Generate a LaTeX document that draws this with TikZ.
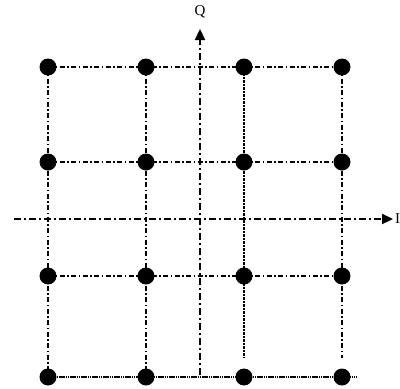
\documentclass[tikz,border=0pt]{standalone}
\usepackage{fontspec}
\setmainfont{Liberation Serif}
\usetikzlibrary{arrows.meta}
\tikzset{
  gridline/.style={line width=1.8pt, dash pattern=on 5pt off 2.5pt on 1.5pt off 2.5pt},
  thinline/.style={line width=1.3pt, dash pattern=on 1pt off 0.4pt},
  dotline/.style={line width=2pt, dash pattern=on 1.5pt off 0.7pt},
  axisline/.style={line width=2.3pt, dash pattern=on 7pt off 3pt on 2pt off 3pt, -{Triangle[length=11pt,width=10pt]}},
  pt/.style={circle, fill=black, inner sep=0pt, minimum size=17pt},
  lab/.style={font=\fontsize{15}{17}\selectfont, inner sep=0pt}
}
\begin{document}
\begin{tikzpicture}[x=1pt,y=-1pt]
\useasboundingbox (0,0) rectangle (400,389);
% grid coordinates
\foreach \c/\x in {1/48,2/146,3/244,4/342}{
  \foreach \r/\y in {1/67,2/162,3/276,4/377}{
    \coordinate (p\r\c) at (\x,\y);
  }
}
\coordinate (e3) at (244,357);
\coordinate (e4) at (342,358);
\coordinate (eb) at (357,377);
\coordinate (hL) at (14,219);
\coordinate (hR) at (393,219);
\coordinate (vB) at (200,375);
\coordinate (vT) at (200,29);
% horizontal grid lines
\draw[gridline] (p11) -- (p14);
\draw[gridline] (p21) -- (p24);
\draw[gridline] (p31) -- (p34);
\draw[dotline] (p41) -- (eb);
% vertical grid lines
\draw[gridline] (p11) -- (p41);
\draw[gridline] (p12) -- (p42);
\draw[thinline] (p13) -- (e3);
\draw[gridline] (p14) -- (e4);
% axes
\draw[axisline] (hL) -- (hR);
\draw[axisline] (vB) -- (vT);
% dots
\foreach \r in {1,2,3,4}{
  \foreach \c in {1,2,3,4}{
    \node[pt] (d\r\c) at (p\r\c) {};
  }
}
\node[lab] (Q) at (200,12) {Q};
\node[lab, anchor=west] (I) at (395,219) {I};
\end{tikzpicture}
\end{document}
